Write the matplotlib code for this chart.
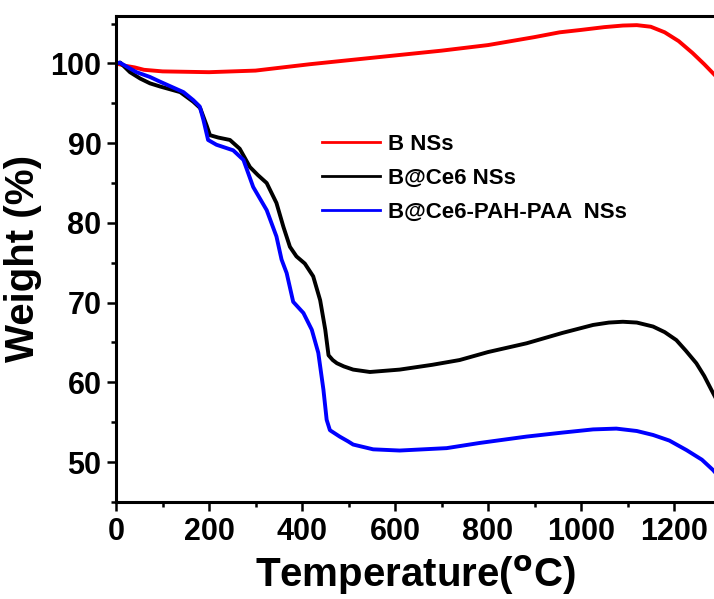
import numpy as np
import matplotlib
matplotlib.use('Agg')
import matplotlib.pyplot as plt
from matplotlib.ticker import MultipleLocator

plt.rcParams['font.family'] = ['Liberation Sans', 'DejaVu Sans']
plt.rcParams['font.weight'] = 'bold'
plt.rcParams['mathtext.default'] = 'regular'

# TGA curves (temperature in C, weight in %)
t_b = [0, 20, 40, 60, 100, 200, 300, 417, 500, 600, 700, 800, 900, 954,
       1000, 1050, 1090, 1120, 1150, 1180, 1210, 1240, 1265, 1290]
w_b = [100.0, 99.7, 99.5, 99.2, 99.0, 98.9, 99.1, 99.9, 100.4, 101.0, 101.6,
       102.3, 103.3, 103.9, 104.2, 104.55, 104.75, 104.8, 104.6, 103.9,
       102.8, 101.3, 99.9, 98.4]

t_bce6 = [0, 9, 30, 52, 73, 95, 138, 166, 181, 188, 195, 202, 220, 245,
          266, 288, 305, 324, 345, 360, 374, 388, 406, 424, 439, 450, 457,
          466, 475, 490, 510, 546, 610, 680, 739, 800, 883, 960, 1026, 1060,
          1090, 1120, 1155, 1180, 1205, 1225, 1248, 1265, 1280, 1290]
w_bce6 = [100.0, 100.1, 98.9, 98.1, 97.5, 97.1, 96.4, 95.2, 94.4, 93.3, 92.2,
          91.0, 90.7, 90.4, 89.3, 87.0, 86.0, 85.0, 82.5, 79.5, 77.0, 75.8,
          74.9, 73.3, 70.3, 66.6, 63.4, 62.8, 62.4, 62.0, 61.6, 61.3, 61.6,
          62.2, 62.8, 63.8, 64.9, 66.2, 67.2, 67.5, 67.6, 67.5, 67.0, 66.3,
          65.3, 64.0, 62.4, 60.8, 59.1, 58.0]

t_paa = [0, 8, 44, 73, 95, 145, 166, 180, 188, 198, 216, 252, 274, 295, 324,
         345, 356, 367, 381, 403, 421, 435, 446, 453, 460, 481, 499, 510, 553,
         610, 711, 782, 883, 960, 1026, 1076, 1120, 1155, 1190, 1227, 1260,
         1284, 1290]
w_paa = [100.0, 100.1, 98.9, 98.3, 97.7, 96.4, 95.4, 94.6, 92.9, 90.4, 89.8,
         89.1, 87.9, 84.5, 81.6, 78.3, 75.4, 73.7, 70.1, 68.7, 66.6, 63.7,
         59.1, 55.3, 54.0, 53.2, 52.6, 52.2, 51.6, 51.45, 51.75, 52.4, 53.2,
         53.7, 54.1, 54.2, 53.9, 53.4, 52.7, 51.5, 50.3, 49.0, 48.6]

labels = ['B NSs', 'B@Ce6 NSs', 'B@Ce6-PAH-PAA  NSs']
colors = ['#ff0000', '#000000', '#0000ff']

fig = plt.figure(figsize=(7.14, 5.99), dpi=100)
ax = fig.add_axes([0.1625, 0.162, 0.8375, 0.812])

for t, w, lab, c in zip([t_b, t_bce6, t_paa], [w_b, w_bce6, w_paa], labels, colors):
    ax.plot(t, w, color=c, lw=2.8, label=lab, solid_joinstyle='round')

ax.set_xlim(0, 1286)
ax.set_ylim(45, 106)
ax.xaxis.set_major_locator(MultipleLocator(200))
ax.xaxis.set_minor_locator(MultipleLocator(100))
ax.yaxis.set_major_locator(MultipleLocator(10))
ax.yaxis.set_minor_locator(MultipleLocator(5))
ax.yaxis.set_major_formatter(plt.FuncFormatter(lambda v, p: '%d' % v if v <= 100 else ''))

ax.spines['right'].set_visible(False)
for s in ['left', 'bottom', 'top']:
    ax.spines[s].set_linewidth(2.2)
ax.tick_params(which='major', direction='out', length=6.5, width=1.8, labelsize=22, pad=4)
ax.tick_params(which='minor', direction='out', length=3.5, width=1.8)
for lb in ax.get_xticklabels() + ax.get_yticklabels():
    lb.set_fontweight('bold')

ax.set_xlabel(r'Temperature($\mathbf{^{o}}$C)', fontsize=29, fontweight='bold', labelpad=5)
ax.set_ylabel('Weight (%)', fontsize=29, fontweight='bold', labelpad=6)

leg = ax.legend(loc='upper left', bbox_to_anchor=(0.33, 0.775), frameon=False,
                prop={'size': 16, 'weight': 'bold'}, handlelength=2.6,
                handletextpad=0.35, labelspacing=0.58, borderaxespad=0)
for h in leg.get_lines():
    h.set_linewidth(2.0)

fig.savefig('out.png', dpi=100)
